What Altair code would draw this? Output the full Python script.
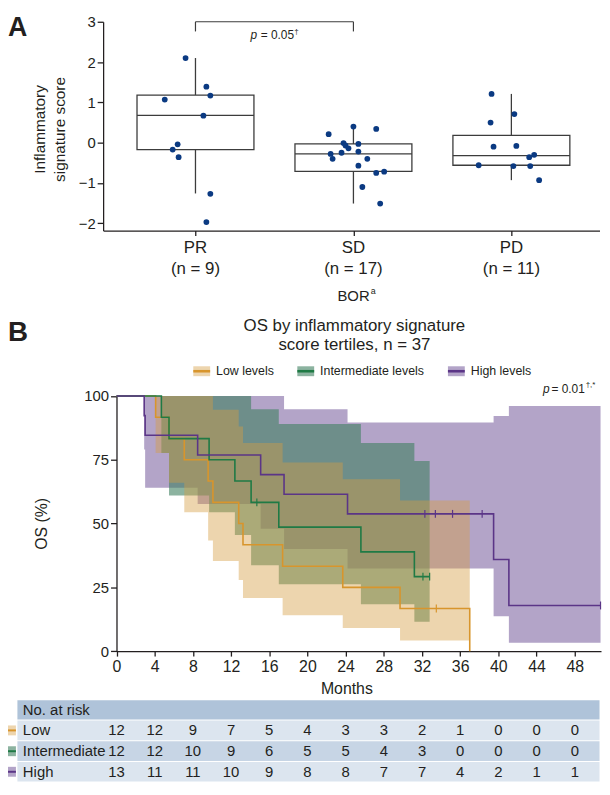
import altair as alt
import pandas as pd

FONT = "Liberation Sans"
INK = "#231F20"

# ---------------- Panel A: inflammatory signature score by BOR ----------------
categories = ["PR", "SD", "PD"]
n_labels = ["(n = 9)", "(n = 17)", "(n = 11)"]
box_q1 = [-0.17, -0.71, -0.56]
box_median = [0.68, -0.28, -0.32]
box_q3 = [1.18, -0.03, 0.18]
whisker_low = [-1.26, -1.51, -0.93]
whisker_high = [2.10, 0.38, 1.21]

pr_scores = [2.10, 1.39, 1.17, 1.07, 0.67, -0.04, -0.17, -0.36, -1.27, -1.97]
pr_jitter = [-10, 11, 15, -31, 8, -18, -23, -17, 15, 11]
sd_scores = [0.21, 0.40, 0.34, -0.01, -0.07, -0.14, -0.03, -0.25, -0.28, -0.40,
             -0.22, -0.40, -0.57, -0.75, -0.72, -1.10, -1.51]
sd_jitter = [-25, 0, 23, -10, -8, -5, 5, -12, -23, -21, 5, 14, 5, 23, 31, 9, 27]
pd_scores = [1.21, 0.71, 0.50, -0.10, -0.08, -0.30, -0.36, -0.56, -0.58, -0.58, -0.93]
pd_jitter = [-20, 3, -21, -18, 5, 23, 18, -33, 2, 19, 28]

# ---------------- Panel B: Kaplan-Meier OS by tertile ----------------
low_t = [0, 4.1, 5.5, 7.1, 9.6, 10.1, 12.8, 13.25, 17.4, 23.7, 29.7, 37.0]
low_s = [100, 91.7, 83.3, 75.0, 66.7, 58.3, 50.0, 41.7, 33.3, 25.0, 16.7, 0]
low_lo = [100, 77.7, 66, 54.4, 43.4, 35.3, 27.9, 20.8, 14.1, 9.1, 4.2, 4.2]
low_hi = [100, 100, 100, 100, 100, 94.6, 88, 81.6, 73.9, 67.4, 59.0, 59.0]
low_cens_t = [33.5]
low_cens_s = [16.7]

int_t = [0, 4.7, 5.5, 9.7, 12.4, 14.1, 17.0, 25.6, 31.2, 32.8]
int_s = [100, 91.7, 83.3, 75.0, 66.7, 58.3, 48.6, 38.9, 29.2, 29.2]
int_lo = [100, 77.7, 61, 54.4, 45.5, 33.7, 26.2, 18.4, 11.5, 11.5]
int_hi = [100, 100, 100, 100, 100, 94.8, 89, 81.6, 74.5, 74.5]
int_cens_t = [14.7, 32.1, 32.8]
int_cens_s = [58.3, 29.2, 29.2]

high_t = [0, 2.9, 3.0, 8.5, 15.1, 17.55, 24.2, 39.5, 41.1, 50.7]
high_s = [100, 92.3, 84.6, 76.9, 69.2, 61.5, 53.8, 35.9, 17.9, 17.9]
high_lo = [100, 79, 64, 57.7, 48, 40, 32.4, 13.7, 3.3, 3.3]
high_hi = [100, 100, 100, 100, 100, 94.8, 89.6, 92.2, 96.1, 96.1]
high_cens_t = [32.3, 33.4, 35.2, 38.3, 50.7]
high_cens_s = [53.8, 53.8, 53.8, 53.8, 17.9]

risk_months = [0, 4, 8, 12, 16, 20, 24, 28, 32, 36, 40, 44, 48]
risk_low = [12, 12, 9, 7, 5, 4, 3, 3, 2, 1, 0, 0, 0]
risk_int = [12, 12, 10, 9, 6, 5, 5, 4, 3, 0, 0, 0, 0]
risk_high = [13, 11, 11, 10, 9, 8, 8, 7, 7, 4, 2, 1, 1]

# ---------------- styles / layout ----------------
BOX_C = "#3C3C3C"
DOT_C = "#0B3A82"
LINE_C = {"low": "#D8952C", "int": "#1F7A45", "high": "#5B3587"}
BAND_C = {"low": "#D59D43", "int": "#408061", "high": "#6E5096"}
BAND_A = {"low": 0.43, "int": 0.6, "high": 0.52}
HEAD_C = "#AFC3D9"
ROW_LIGHT = "#DCE5EF"
ROW_MID = "#C7D5E5"

W, H = 501.5, 635.2
STEP_A = 159.4
HALF_BOX = 59 / STEP_A


def one():
    return pd.DataFrame({"k": [0]})


def txt(s, x, y, size=15, align="center", baseline="middle", weight="normal",
        style="normal", angle=0, color=INK):
    return alt.Chart(pd.DataFrame({"v": [s]})).mark_text(
        align=align, baseline=baseline, fontSize=size, fontWeight=weight,
        fontStyle=style, angle=angle, color=color, font=FONT
    ).encode(x=alt.value(x), y=alt.value(y), text="v:N")


def rect_px(x0, x1, y0, y1, color, opacity=1.0):
    return alt.Chart(one()).mark_rect(color=color, opacity=opacity).encode(
        x=alt.value(x0), x2=alt.value(x1), y=alt.value(y0), y2=alt.value(y1))


def hline_px(x0, x1, y, color, width):
    return alt.Chart(one()).mark_rule(color=color, strokeWidth=width).encode(
        x=alt.value(x0), x2=alt.value(x1), y=alt.value(y))


# ---------------- Panel A scales ----------------
sc_ax = alt.Scale(domain=[0.4153, 3.558], range=[0, 501], nice=False, zero=False)
sc_ay = alt.Scale(domain=[-2.18, 3.0], range=[210.7, 0], nice=False, zero=False)
ax_ax = alt.Axis(orient="bottom", offset=-424.5, values=[1, 2, 3], labels=False,
                 tickSize=5, grid=False)
ax_ay = alt.Axis(orient="left", values=[-2, -1, 0, 1, 2, 3], tickSize=6,
                 labelFontSize=15, labelPadding=2, labelFlush=False, grid=False)


def xa(f):
    return alt.X(f"{f}:Q", scale=sc_ax, axis=ax_ax, title=None)


def ya(f):
    return alt.Y(f"{f}:Q", scale=sc_ay, axis=ax_ay, title=None)


box_df = pd.DataFrame({"idx": [1, 2, 3], "q1": box_q1, "med": box_median,
                       "q3": box_q3, "lo": whisker_low, "hi": whisker_high,
                       "cat": categories, "n": n_labels})
box_df["left"] = box_df["idx"] - HALF_BOX
box_df["right"] = box_df["idx"] + HALF_BOX

pts = pd.DataFrame({
    "idx": [1] * len(pr_scores) + [2] * len(sd_scores) + [3] * len(pd_scores),
    "score": pr_scores + sd_scores + pd_scores,
    "jit": pr_jitter + sd_jitter + pd_jitter,
})
pts["xj"] = pts["idx"] + pts["jit"] / STEP_A

whiskers = alt.Chart(box_df).mark_rule(color=BOX_C, strokeWidth=1.3).encode(
    x=xa("idx"), y=ya("lo"), y2="hi")
boxes = alt.Chart(box_df).mark_rect(fill="white", stroke=BOX_C, strokeWidth=1.3).encode(
    x=xa("left"), x2="right", y=ya("q1"), y2="q3")
medians = alt.Chart(box_df).mark_rule(color=BOX_C, strokeWidth=1.3).encode(
    x=xa("left"), x2="right", y=ya("med"))
points = alt.Chart(pts).mark_circle(size=34, color=DOT_C, opacity=1).encode(
    x=xa("xj"), y=ya("score"))

br_h = alt.Chart(pd.DataFrame({"a": [1], "b": [2], "top": [3.0]})).mark_rule(
    color=BOX_C, strokeWidth=1.2).encode(x=xa("a"), x2="b", y=ya("top"))
br_v = alt.Chart(pd.DataFrame({"x": [1, 2], "y0": [2.76, 2.76], "y1": [3.0, 3.0]})).mark_rule(
    color=BOX_C, strokeWidth=1.2).encode(x=xa("x"), y=ya("y0"), y2="y1")

cat_txt = alt.Chart(box_df).mark_text(fontSize=17, color=INK, font=FONT, baseline="middle").encode(
    x=xa("idx"), y=alt.value(228.4), text="cat:N")
n_txt = alt.Chart(box_df).mark_text(fontSize=17, color=INK, font=FONT, baseline="middle").encode(
    x=xa("idx"), y=alt.value(250), text="n:N")

layerA = alt.layer(
    whiskers, boxes, medians, points, br_h, br_v, cat_txt, n_txt,
    txt("A", -96, 14.5, size=27, align="left", baseline="alphabetic", weight="bold"),
    txt("Inflammatory", -64, 108.7, size=15.5, angle=270),
    txt("signature score", -43, 108.7, size=15.5, angle=270),
    txt("BOR", 269, 276.7, size=15, align="right"),
    txt("a", 270, 272, size=9, align="left"),
    txt("p", 155.5, 13.4, size=12, align="right", style="italic"),
    txt("= 0.05", 159, 13.4, size=12, align="left"),
    txt("\u2020", 193, 10, size=8, align="left"),
)

# ---------------- Panel B scales ----------------
sc_bx = alt.Scale(domain=[0, 50.75], range=[13.5, 502.5], nice=False, zero=False)
sc_by = alt.Scale(domain=[0, 100], range=[635.2, 377.7], nice=False, zero=False)
ax_bx = alt.Axis(orient="bottom", values=risk_months, tickSize=5, labelFontSize=16,
                 labelPadding=3, labelFlush=False, labelOverlap=False, grid=False)
ax_by = alt.Axis(orient="left", offset=-13.5, values=[0, 25, 50, 75, 100], tickSize=6,
                 labelFontSize=15, labelPadding=2, labelFlush=False, grid=False)


def xb(f):
    return alt.X(f"{f}:Q", scale=sc_bx, axis=ax_bx, title=None)


def yb(f):
    return alt.Y(f"{f}:Q", scale=sc_by, axis=ax_by, title=None)


groups = {
    "low": (low_t, low_s, low_lo, low_hi, low_cens_t, low_cens_s),
    "int": (int_t, int_s, int_lo, int_hi, int_cens_t, int_cens_s),
    "high": (high_t, high_s, high_lo, high_hi, high_cens_t, high_cens_s),
}

bands, lines, cens = [], [], []
for key in ["high", "int", "low"]:
    t, s, lo, hi, ct, cs = groups[key]
    df = pd.DataFrame({"t": t, "s": s, "lo": lo, "hi": hi})
    bands.append(alt.Chart(df).mark_area(interpolate="step-after", color=BAND_C[key],
                                         opacity=BAND_A[key]).encode(
        x=xb("t"), y=yb("lo"), y2="hi"))
for key in ["low", "int", "high"]:
    t, s, lo, hi, ct, cs = groups[key]
    df = pd.DataFrame({"t": t, "s": s})
    lines.append(alt.Chart(df).mark_line(interpolate="step-after", color=LINE_C[key],
                                         strokeWidth=1.6).encode(x=xb("t"), y=yb("s")))
    cdf = pd.DataFrame({"t": ct, "s": cs})
    cens.append(alt.Chart(cdf).mark_point(shape="M0,-1L0,1", size=64, filled=False,
                                          color=LINE_C[key], strokeWidth=1.2, opacity=1).encode(
        x=xb("t"), y=yb("s")))

# legend
legend_parts = []
legend_items = [("low", "Low levels", 91), ("int", "Intermediate levels", 196),
                ("high", "High levels", 348)]
for key, label, x0 in legend_items:
    legend_parts.append(rect_px(x0, x0 + 17, 347.7, 357.7, BAND_C[key], BAND_A[key]))
    legend_parts.append(hline_px(x0, x0 + 17, 352.7, LINE_C[key], 2.6))
    legend_parts.append(txt(label, x0 + 23, 352.7, size=12.5, align="left"))

# risk table
table_parts = [rect_px(-86.5, 501, 684.7, 704.2, HEAD_C),
               txt("No. at risk", -81, 694.5, size=15, align="left")]
rows = [("low", "Low", risk_low, 705.2, 725.2, ROW_LIGHT),
        ("int", "Intermediate", risk_int, 726.2, 746.2, ROW_MID),
        ("high", "High", risk_high, 747.2, 766.7, ROW_LIGHT)]
for key, label, counts, y0, y1, bg in rows:
    yc = (y0 + y1) / 2
    table_parts.append(rect_px(-86.5, 501, y0, y1, bg))
    table_parts.append(rect_px(-96, -88, yc - 5, yc + 5, BAND_C[key], BAND_A[key]))
    table_parts.append(hline_px(-96, -88, yc, LINE_C[key], 2))
    table_parts.append(txt(label, -81, yc, size=15, align="left"))
    rdf = pd.DataFrame({"month": risk_months, "n": counts})
    table_parts.append(alt.Chart(rdf).mark_text(fontSize=15, color=INK, font=FONT,
                                                baseline="middle").encode(
        x=xb("month"), y=alt.value(yc), text="n:Q"))

layerB = alt.layer(
    *bands, *lines, *cens, *legend_parts, *table_parts,
    txt("B", -96, 321.7, size=28, align="left", baseline="alphabetic", weight="bold"),
    txt("OS by inflammatory signature", 253.6, 306.7, size=17),
    txt("score tertiles, n = 37", 253.6, 326.7, size=17),
    txt("p", 444, 371, size=12, align="left", style="italic"),
    txt("= 0.01", 452.5, 371, size=12, align="left"),
    txt("\u2020,*", 487, 367, size=8, align="left"),
    txt("OS (%)", -62, 506.7, size=16, angle=270),
    txt("Months", 246, 673.4, size=16),
)

chart = alt.layer(layerA, layerB).resolve_scale(
    x="independent", y="independent"
).properties(
    width=W, height=H,
    autosize=alt.AutoSizeParams(type="none"),
    padding={"left": 96, "top": 10.3, "right": 2, "bottom": 131.5},
).configure(font=FONT).configure_view(strokeWidth=0).configure_axis(
    domainColor=INK, tickColor=INK, labelColor=INK, labelFont=FONT,
    domainWidth=1.3, tickWidth=1.3,
)

chart.save("out.html", embed_options={"renderer": "svg", "actions": False})
